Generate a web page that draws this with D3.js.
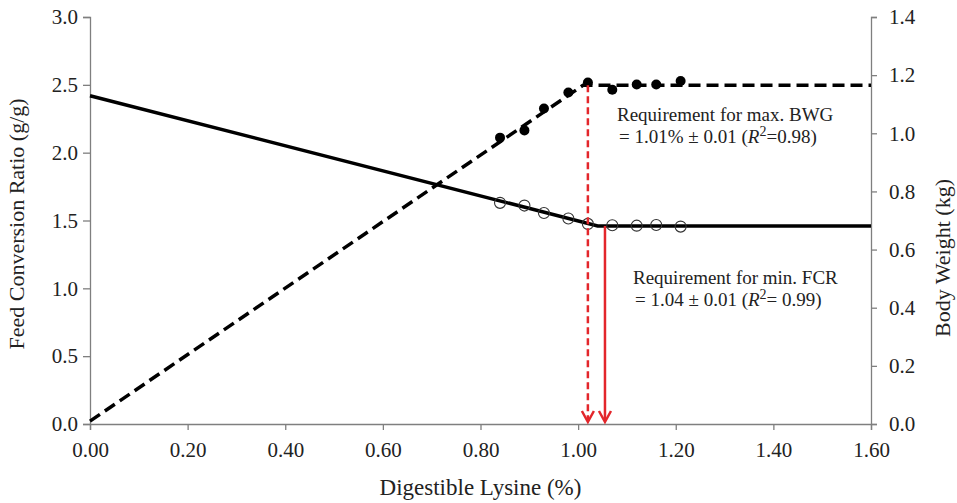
<!DOCTYPE html>
<html>
<head>
<meta charset="utf-8">
<script src="https://cdn.jsdelivr.net/npm/d3@7"></script>
<style>
    body { margin: 0; background: #fff; }
    svg text { font-family: "Liberation Serif", Tinos, "DejaVu Serif", "Noto Serif", "Times New Roman", serif; fill: #222; }
</style>
</head>
<body>
<div id="chart"></div>
<script>
    // observed data
    var lysine = [0.84, 0.89, 0.93, 0.98, 1.02, 1.07, 1.12, 1.16, 1.21];
    var bodyWeight = [0.985, 1.01, 1.085, 1.14, 1.175, 1.15, 1.168, 1.168, 1.18];
    var fcr = [1.63, 1.61, 1.555, 1.515, 1.475, 1.465, 1.462, 1.467, 1.455];

    // broken-line fits
    var fcrFitX = [0, 1.04, 1.60];
    var fcrFitY = [2.42, 1.46, 1.46];
    var bwFitX = [0, 1.01, 1.60];
    var bwFitY = [0.01, 1.165, 1.165];

    // requirement arrows
    var bwArrow = { x: 1.02, from: 1.165 };
    var fcrArrow = { x: 1.055, from: 1.46 };

    var xTicks = [0, 0.2, 0.4, 0.6, 0.8, 1.0, 1.2, 1.4, 1.6];
    var leftTicks = [0, 0.5, 1.0, 1.5, 2.0, 2.5, 3.0];
    var rightTicks = [0, 0.2, 0.4, 0.6, 0.8, 1.0, 1.2, 1.4];

    var width = 957, height = 503;
    var margin = { top: 17, right: 86, bottom: 79, left: 90 };
    var axisColor = "#7f7f7f";
    var red = "#e3262b";
    var serif = "'Liberation Serif', Tinos, 'DejaVu Serif', 'Noto Serif', serif";

    var svg = d3.select("#chart").append("svg")
        .attr("width", width)
        .attr("height", height)
        .style("font-family", serif);

    var x = d3.scaleLinear().domain([0, 1.6]).range([margin.left, width - margin.right]);
    var yL = d3.scaleLinear().domain([0, 3.0]).range([height - margin.bottom, margin.top]);
    var yR = d3.scaleLinear().domain([0, 1.4]).range([height - margin.bottom, margin.top]);

    // axes
    var xAxis = svg.append("g")
        .attr("transform", "translate(0," + yL(0) + ")")
        .call(d3.axisBottom(x).tickValues(xTicks).tickFormat(d3.format(".2f")).tickSizeOuter(0).tickSize(6).tickPadding(12));
    var leftAxis = svg.append("g")
        .attr("transform", "translate(" + x(0) + ",0)")
        .call(d3.axisLeft(yL).tickValues(leftTicks).tickFormat(d3.format(".1f")).tickSizeOuter(0).tickSize(7).tickPadding(5));
    var rightAxis = svg.append("g")
        .attr("transform", "translate(" + x(1.6) + ",0)")
        .call(d3.axisRight(yR).tickValues(rightTicks).tickFormat(d3.format(".1f")).tickSizeOuter(0).tickSize(6).tickPadding(12));

    [xAxis, leftAxis, rightAxis].forEach(function (a) {
        a.attr("font-family", serif);
        a.select(".domain").attr("stroke", axisColor).attr("stroke-width", 1.3);
        a.selectAll(".tick line").attr("stroke", axisColor).attr("stroke-width", 1.3);
        a.selectAll(".tick text")
            .attr("font-size", 21)
            .attr("fill", "#222");
    });

    // axis titles
    svg.append("text")
        .attr("x", (x(0) + x(1.6)) / 2)
        .attr("y", 495)
        .attr("text-anchor", "middle")
        .attr("font-size", 23)
        .text("Digestible Lysine (%)");
    svg.append("text")
        .attr("transform", "translate(24," + 224 + ") rotate(-90)")
        .attr("text-anchor", "middle")
        .attr("font-size", 22)
        .text("Feed Conversion Ratio (g/g)");
    svg.append("text")
        .attr("transform", "translate(950," + 258 + ") rotate(-90)")
        .attr("text-anchor", "middle")
        .attr("font-size", 22)
        .text("Body Weight (kg)");

    // fitted lines
    var fcrLine = d3.line().x(function (d) { return x(d[0]); }).y(function (d) { return yL(d[1]); });
    var bwLine = d3.line().x(function (d) { return x(d[0]); }).y(function (d) { return yR(d[1]); });

    svg.append("path")
        .datum(d3.zip(fcrFitX, fcrFitY))
        .attr("d", fcrLine)
        .attr("fill", "none")
        .attr("stroke", "#000")
        .attr("stroke-width", 3.5);

    svg.append("path")
        .datum(d3.zip(bwFitX, bwFitY))
        .attr("d", bwLine)
        .attr("fill", "none")
        .attr("stroke", "#000")
        .attr("stroke-width", 3.5)
        .attr("stroke-dasharray", "12,6");

    // points
    svg.append("g").selectAll("circle")
        .data(d3.zip(lysine, fcr))
        .enter().append("circle")
        .attr("cx", function (d) { return x(d[0]); })
        .attr("cy", function (d) { return yL(d[1]); })
        .attr("r", 5.5)
        .attr("fill", "none")
        .attr("stroke", "#333")
        .attr("stroke-width", 1.1);

    svg.append("g").selectAll("circle")
        .data(d3.zip(lysine, bodyWeight))
        .enter().append("circle")
        .attr("cx", function (d) { return x(d[0]); })
        .attr("cy", function (d) { return yR(d[1]); })
        .attr("r", 5)
        .attr("fill", "#000");

    // red arrows
    function arrow(px, yTop, dashed) {
        var tip = yL(0) - 2;
        svg.append("line")
            .attr("x1", px).attr("x2", px)
            .attr("y1", yTop).attr("y2", tip - 2)
            .attr("stroke", red)
            .attr("stroke-width", 2.5)
            .attr("stroke-dasharray", dashed ? "7,4" : null);
        svg.append("path")
            .attr("d", "M" + (px - 6) + "," + (tip - 11) + "L" + px + "," + tip + "L" + (px + 6) + "," + (tip - 11))
            .attr("fill", "none")
            .attr("stroke", red)
            .attr("stroke-width", 2.5);
    }
    arrow(x(bwArrow.x), yR(bwArrow.from), true);
    arrow(x(fcrArrow.x), yL(fcrArrow.from), false);

    // annotations
    function note(px, py, line1, value, r2, r2gap) {
        var t = svg.append("text").attr("font-size", 19);
        t.append("tspan").attr("x", px).attr("y", py).text(line1);
        var t2 = svg.append("text").attr("font-size", 19).attr("x", px + 2).attr("y", py + 22);
        t2.append("tspan").text(value + " (");
        t2.append("tspan").attr("font-style", "italic").text("R");
        t2.append("tspan").attr("font-size", 14).attr("dy", -7).text("2");
        t2.append("tspan").attr("dy", 7).text(r2gap + r2 + ")");
    }
    note(617, 121, "Requirement for max. BWG", "= 1.01% \u00b1 0.01", "0.98", "=");
    note(633, 284, "Requirement for min. FCR", "= 1.04 \u00b1 0.01", "0.99", "= ");
</script>
</body>
</html>
